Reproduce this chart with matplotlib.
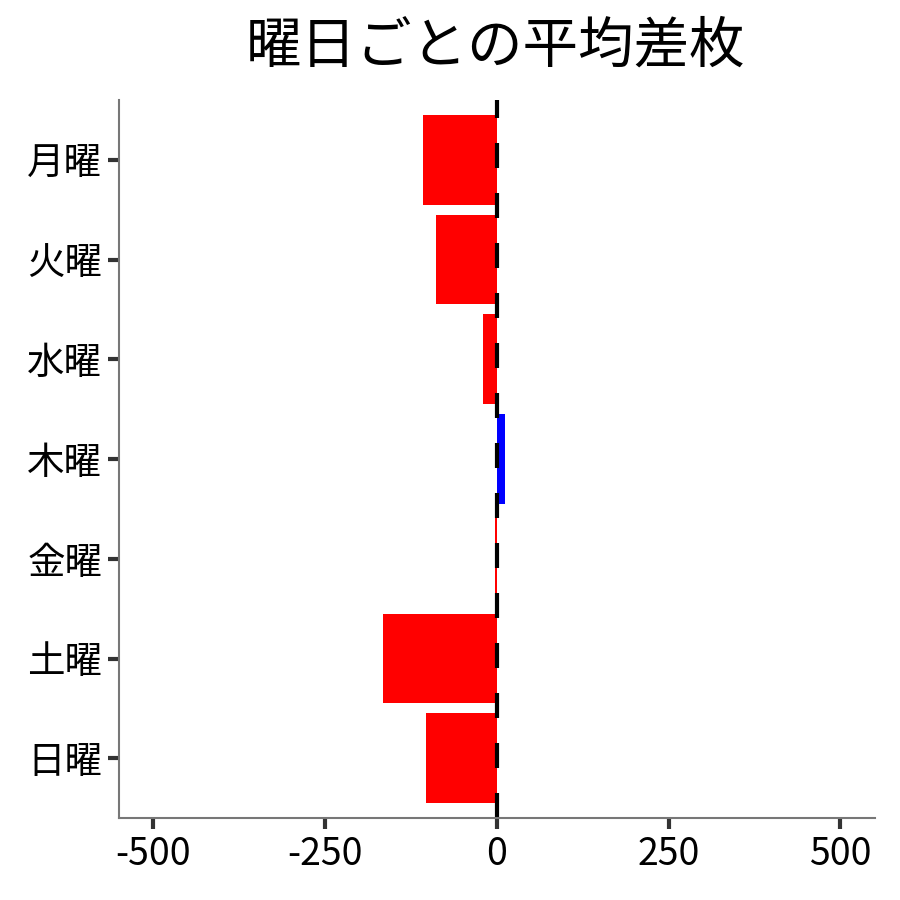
import matplotlib
matplotlib.use('Agg')
import matplotlib.pyplot as plt

plt.rcParams['font.family'] = ['Noto Sans CJK JP', 'DejaVu Sans']

days = ['月曜', '火曜', '水曜', '木曜', '金曜', '土曜', '日曜']
diff = [-107, -88, -20, 12, -2, -166, -103]

colors = ['blue' if v > 0 else 'red' for v in diff]

fig = plt.figure(figsize=(9, 9), dpi=100)
ax = fig.add_axes([0.132, 0.091, 0.840, 0.798])

ypos = list(range(len(days)))
ax.barh(ypos, diff, height=0.9, color=colors)
ax.axvline(0, color='black', linestyle=(0, (6, 6)), linewidth=3)

ax.set_xlim(-550, 550)
ax.set_ylim(len(days) - 1 + 0.6, -0.6)
ax.set_yticks(ypos)
ax.set_yticklabels(days)
ax.set_xticks([-500, -250, 0, 250, 500])
ax.set_xticklabels(['-500', '-250', '0', '250', '500'])

ax.tick_params(axis='both', labelsize=27, colors='#333333', length=8, width=3,
               labelcolor='black', pad=4)
for s in ['top', 'right']:
    ax.spines[s].set_visible(False)
for s in ['left', 'bottom']:
    ax.spines[s].set_color('#777777')
    ax.spines[s].set_linewidth(1.5)

fig.text(0.551, 0.948, '曜日ごとの平均差枚', fontsize=40, ha='center', va='center')

fig.savefig('out.png', dpi=100)
